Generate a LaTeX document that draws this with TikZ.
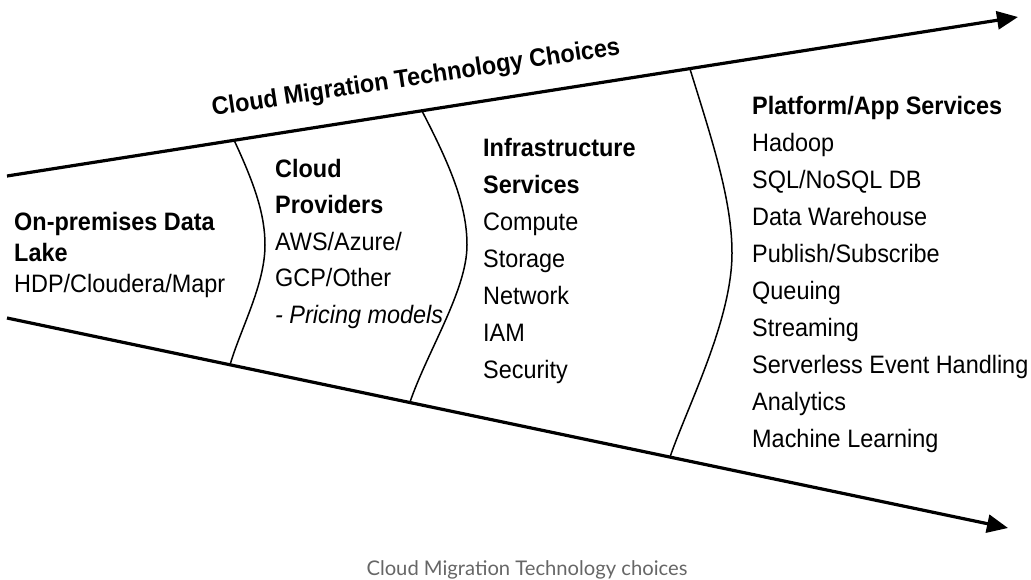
\documentclass[tikz,border=0pt]{standalone}
\usepackage{fontspec}
\setmainfont[FakeStretch=0.93]{Liberation Sans}
\newfontfamily\capfont{Lato}
\usetikzlibrary{arrows.meta}
\definecolor{capgray}{HTML}{666666}
\begin{document}
\begin{tikzpicture}[x=1pt,y=-1pt,
  axis/.style={line width=3.2pt,-{Triangle[length=21pt,width=18pt]}},
  divider/.style={line width=1.5pt},
  col/.style={anchor=base west,align=left,inner sep=0pt,font=\fontsize{25.2}{37}\selectfont},
  titletext/.style={anchor=base,inner sep=0pt,font=\fontsize{25.2}{28}\selectfont\bfseries},
  captext/.style={anchor=base,inner sep=0pt,text=capgray,font=\capfont\fontsize{20.2}{22}\selectfont}]
\useasboundingbox (0,0) rectangle (1031,579);
% axes
\coordinate (TL) at (7,176);
\coordinate (TR) at (1018,17);
\coordinate (BL) at (7,318);
\coordinate (BR) at (1008,528);
\draw[axis] (TL) -- (TR);
\draw[axis] (BL) -- (BR);
% dividers
\draw[divider] (234,140) .. controls (255,185) and (265,215) .. (265,245)
  .. controls (265,285) and (240,330) .. (230,365);
\draw[divider] (422,111) .. controls (450,165) and (467,205) .. (467,245)
  .. controls (467,290) and (428,350) .. (410,402);
\draw[divider] (690,69) .. controls (712,140) and (732,200) .. (732,253)
  .. controls (732,320) and (688,405) .. (670,457);
% title
\node[titletext,rotate=8.6] (title) at (417,85) {Cloud Migration Technology Choices};
% columns (anchored at the baseline of their last line)
\node[col,font=\fontsize{25.2}{31}\selectfont] (c1) at (14,292)
  {\textbf{On-premises Data}\\\textbf{Lake}\\HDP/Cloudera/Mapr};
\node[col,font=\fontsize{25.2}{36.5}\selectfont] (c2) at (275,323)
  {\textbf{Cloud}\\\textbf{Providers}\\AWS/Azure/\\GCP/Other\\\textit{- Pricing models}};
\node[col] (c3) at (483,378)
  {\textbf{Infrastructure}\\\textbf{Services}\\Compute\\Storage\\Network\\IAM\\Security};
\node[col] (c4) at (752,447)
  {\textbf{Platform/App Services}\\Hadoop\\SQL/NoSQL DB\\Data Warehouse\\Publish/Subscribe\\Queuing\\Streaming\\Serverless Event Handling\\Analytics\\Machine Learning};
% caption
\node[captext] (cap) at (527,575) {Cloud Migration Technology choices};
\end{tikzpicture}
\end{document}
